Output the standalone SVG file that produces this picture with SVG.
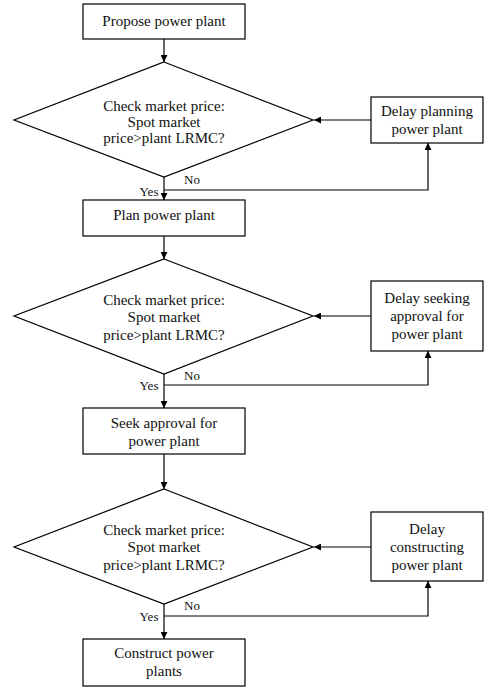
<svg xmlns="http://www.w3.org/2000/svg" width="484" height="688" viewBox="0 0 484 688">
<defs>
<marker id="ah" viewBox="0 0 10 10" refX="10" refY="5" markerWidth="7" markerHeight="7" markerUnits="userSpaceOnUse" orient="auto">
<path d="M0,0 L10,5 L0,10 Z" fill="#000"/>
</marker>
<style>
.n rect,.n polygon{fill:#fff;stroke:#000;stroke-width:1.2}
text{font-family:"Liberation Serif","Times New Roman",serif;font-size:15px;fill:#111;text-anchor:middle}
.lbl{font-size:13px}
.c line,.c polyline{stroke:#000;stroke-width:1.2;fill:none}
</style>
</defs>
<rect width="484" height="688" fill="#fff"/>
<g class="c" id="connectors">
<line x1="164" y1="39" x2="164" y2="62" marker-end="url(#ah)"/>
<line x1="371" y1="120" x2="314" y2="120" marker-end="url(#ah)"/>
<polyline points="164,190 428,190 428,143" marker-end="url(#ah)"/>
<line x1="164" y1="177" x2="164" y2="200" marker-end="url(#ah)"/>
<line x1="164" y1="236" x2="164" y2="259" marker-end="url(#ah)"/>
<line x1="371" y1="316" x2="314" y2="316" marker-end="url(#ah)"/>
<polyline points="164,385 428,385 428,351" marker-end="url(#ah)"/>
<line x1="164" y1="374" x2="164" y2="408" marker-end="url(#ah)"/>
<line x1="164" y1="454" x2="164" y2="489" marker-end="url(#ah)"/>
<line x1="371" y1="547" x2="314" y2="547" marker-end="url(#ah)"/>
<polyline points="164,616 428,616 428,581" marker-end="url(#ah)"/>
<line x1="164" y1="604" x2="164" y2="639" marker-end="url(#ah)"/>
<text class="lbl" x="192" y="184">No</text>
<text class="lbl" x="149" y="196">Yes</text>
<text class="lbl" x="192" y="380">No</text>
<text class="lbl" x="149" y="390">Yes</text>
<text class="lbl" x="192" y="610">No</text>
<text class="lbl" x="149" y="621">Yes</text>
</g>
<g id="propose" class="n">
<rect x="83" y="4" width="162" height="35"/>
<text x="164" y="26">Propose power plant</text>
</g>
<g id="check1" class="n">
<polygon points="164,62 313,120 164,177 14,120"/>
<text x="164" y="111">Check market price:</text>
<text x="164" y="127">Spot market</text>
<text x="164" y="143">price&gt;plant LRMC?</text>
</g>
<g id="delay1" class="n">
<rect x="371" y="97" width="112" height="46"/>
<text x="427" y="116">Delay planning</text>
<text x="427" y="134">power plant</text>
</g>
<g id="plan" class="n">
<rect x="83" y="200" width="162" height="36"/>
<text x="164" y="220">Plan power plant</text>
</g>
<g id="check2" class="n">
<polygon points="164,259 313,316 164,374 14,316"/>
<text x="164" y="305">Check market price:</text>
<text x="164" y="322">Spot market</text>
<text x="164" y="340">price&gt;plant LRMC?</text>
</g>
<g id="delay2" class="n">
<rect x="371" y="281" width="112" height="70"/>
<text x="427" y="303">Delay seeking</text>
<text x="427" y="321">approval for</text>
<text x="427" y="339">power plant</text>
</g>
<g id="seek" class="n">
<rect x="83" y="408" width="162" height="46"/>
<text x="164" y="428">Seek approval for</text>
<text x="164" y="446">power plant</text>
</g>
<g id="check3" class="n">
<polygon points="164,489 313,547 164,604 14,547"/>
<text x="164" y="535">Check market price:</text>
<text x="164" y="552">Spot market</text>
<text x="164" y="570">price&gt;plant LRMC?</text>
</g>
<g id="delay3" class="n">
<rect x="371" y="512" width="112" height="69"/>
<text x="427" y="534">Delay</text>
<text x="427" y="552">constructing</text>
<text x="427" y="570">power plant</text>
</g>
<g id="construct" class="n">
<rect x="83" y="639" width="162" height="47"/>
<text x="164" y="658">Construct power</text>
<text x="164" y="676">plants</text>
</g>
</svg>
